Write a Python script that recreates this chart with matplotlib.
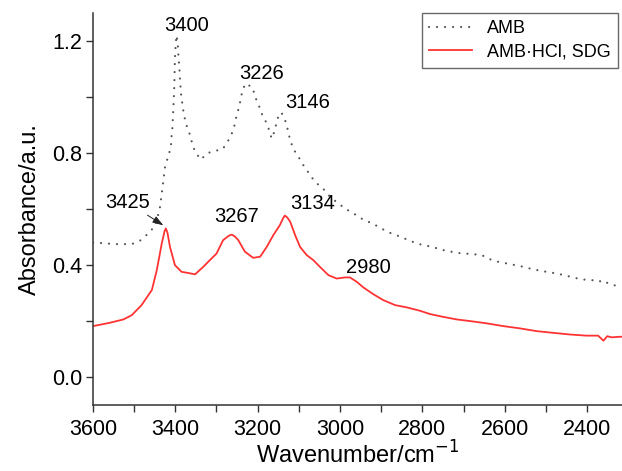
import matplotlib
matplotlib.use("Agg")
import matplotlib.pyplot as plt
from matplotlib.ticker import MultipleLocator

plt.rcParams['font.family'] = ['Liberation Sans', 'DejaVu Sans']

# AMB spectrum
amb_x = [3600, 3591, 3547, 3506, 3486, 3468, 3449, 3438, 3430, 3425, 3413, 3410, 3409,
         3407, 3406, 3405, 3403, 3402, 3401, 3399, 3397, 3394, 3393, 3390, 3389, 3386,
         3381, 3377, 3371, 3364, 3359, 3352, 3338, 3322, 3304, 3285, 3271, 3261, 3255,
         3251, 3245, 3241, 3237, 3229, 3212, 3207, 3198, 3190, 3180, 3172, 3166, 3158,
         3154, 3148, 3142, 3131, 3121, 3113, 3101, 3089, 3075, 3061, 3041, 3024, 3004,
         2984, 2961, 2942, 2921, 2900, 2880, 2858, 2838, 2818, 2798, 2777, 2757, 2737,
         2717, 2696, 2676, 2656, 2636, 2616, 2595, 2575, 2555, 2534, 2514, 2494, 2474,
         2452, 2432, 2411, 2391, 2371, 2362, 2350, 2330, 2315]
amb_y = [0.48, 0.48, 0.475, 0.475, 0.487, 0.51, 0.54, 0.60, 0.69, 0.751, 0.81, 0.835, 0.864,
         0.894, 0.924, 0.956, 1.016, 1.075, 1.135, 1.192, 1.221, 1.19, 1.16, 1.10, 1.07, 1.01,
         0.955, 0.924, 0.89, 0.864, 0.834, 0.805, 0.777, 0.80, 0.808, 0.814, 0.846, 0.876, 0.906,
         0.936, 0.965, 0.995, 1.025, 1.049, 1.034, 1.004, 0.974, 0.941, 0.912, 0.882, 0.852, 0.882,
         0.912, 0.939, 0.945, 0.909, 0.846, 0.814, 0.787, 0.757, 0.727, 0.698, 0.673, 0.644, 0.62,
         0.599, 0.579, 0.561, 0.549, 0.531, 0.516, 0.504, 0.492, 0.48, 0.471, 0.466, 0.456, 0.45,
         0.444, 0.441, 0.439, 0.436, 0.421, 0.412, 0.406, 0.40, 0.394, 0.386, 0.38, 0.375, 0.37,
         0.363, 0.355, 0.349, 0.346, 0.346, 0.334, 0.337, 0.326, 0.322]

# AMB-HCl, SDG spectrum
sdg_x = [3600, 3559, 3526, 3506, 3482, 3457, 3445, 3433, 3426, 3423, 3419, 3413, 3401, 3385,
         3369, 3352, 3332, 3316, 3300, 3284, 3270, 3263, 3255, 3247, 3231, 3211, 3194, 3178,
         3162, 3146, 3138, 3134, 3128, 3121, 3109, 3097, 3081, 3065, 3049, 3028, 3008, 2988,
         2976, 2959, 2943, 2919, 2895, 2866, 2838, 2806, 2781, 2749, 2717, 2684, 2644, 2603,
         2563, 2522, 2482, 2441, 2401, 2373, 2360, 2351, 2340, 2320, 2315]
sdg_y = [0.182, 0.194, 0.206, 0.221, 0.257, 0.311, 0.382, 0.477, 0.522, 0.531, 0.515, 0.465,
         0.40, 0.376, 0.372, 0.367, 0.394, 0.418, 0.441, 0.489, 0.505, 0.509, 0.502, 0.489,
         0.448, 0.426, 0.43, 0.465, 0.507, 0.543, 0.568, 0.577, 0.57, 0.555, 0.507, 0.465,
         0.436, 0.418, 0.394, 0.364, 0.352, 0.356, 0.356, 0.34, 0.32, 0.296, 0.275, 0.257,
         0.249, 0.237, 0.225, 0.215, 0.206, 0.2, 0.192, 0.182, 0.174, 0.164, 0.158, 0.152,
         0.148, 0.148, 0.13, 0.146, 0.142, 0.144, 0.144]

# peak labels: text, x, y
peak_text = ["3400", "3226", "3146", "3267", "3134", "2980"]
peak_x = [3372, 3190, 3078, 3250, 3066, 2932]
peak_y = [1.257, 1.086, 0.982, 0.575, 0.62, 0.393]

fig = plt.figure(figsize=(6.22, 4.71), dpi=100)
ax = fig.add_axes([0.1495, 0.140, 0.8505, 0.832])

ax.plot(amb_x, amb_y, color='#555555', lw=1.6, linestyle=(0, (0.01, 3.6)),
        dash_capstyle='round', label='AMB')
ax.plot(sdg_x, sdg_y, color='#ff3333', lw=1.3, label='AMB\u00b7HCl, SDG')

for t, x, y in zip(peak_text, peak_x, peak_y):
    ax.text(x, y, t, fontsize=14.5, ha='center', va='center')

ax.annotate("3425", xy=(3429, 0.542), xytext=(3517, 0.625), fontsize=14.5,
            ha='center', va='center',
            arrowprops=dict(arrowstyle='-|>,head_length=0.45,head_width=0.15',
                            color='#222222', lw=0.7, shrinkA=1, shrinkB=0))

ax.set_xlim(3600, 2315)
ax.set_ylim(-0.1, 1.3)
ax.xaxis.set_major_locator(MultipleLocator(200))
ax.xaxis.set_minor_locator(MultipleLocator(100))
ax.yaxis.set_minor_locator(MultipleLocator(0.2))
ax.set_yticks([0.0, 0.4, 0.8, 1.2])
ax.set_yticklabels(["0.0", "0.4", "0.8", "1.2"])

for s in ['top', 'right']:
    ax.spines[s].set_visible(False)
for s in ['left', 'bottom']:
    ax.spines[s].set_linewidth(1.1)
    ax.spines[s].set_color('#333333')

ax.tick_params(which='major', direction='out', length=5, width=1.0, color='#333333',
               labelsize=15.5)
ax.tick_params(which='minor', direction='out', length=5, width=1.0, color='#333333')
ax.tick_params(axis='x', which='major', pad=5)
ax.tick_params(axis='y', which='major', pad=3)

ax.set_xlabel("Wavenumber/cm$^{\u22121}$", fontsize=17, labelpad=1)
ax.set_ylabel("Absorbance/a.u.", fontsize=17, labelpad=8)

leg = ax.legend(loc='upper right', fontsize=13, frameon=True, fancybox=False,
                handlelength=2.4, borderaxespad=0.0, borderpad=0.4, labelspacing=0.35,
                bbox_to_anchor=(0.992, 1.0))
leg.get_frame().set_edgecolor('#444444')
leg.get_frame().set_linewidth(1.0)

fig.savefig("out.png", dpi=100)
